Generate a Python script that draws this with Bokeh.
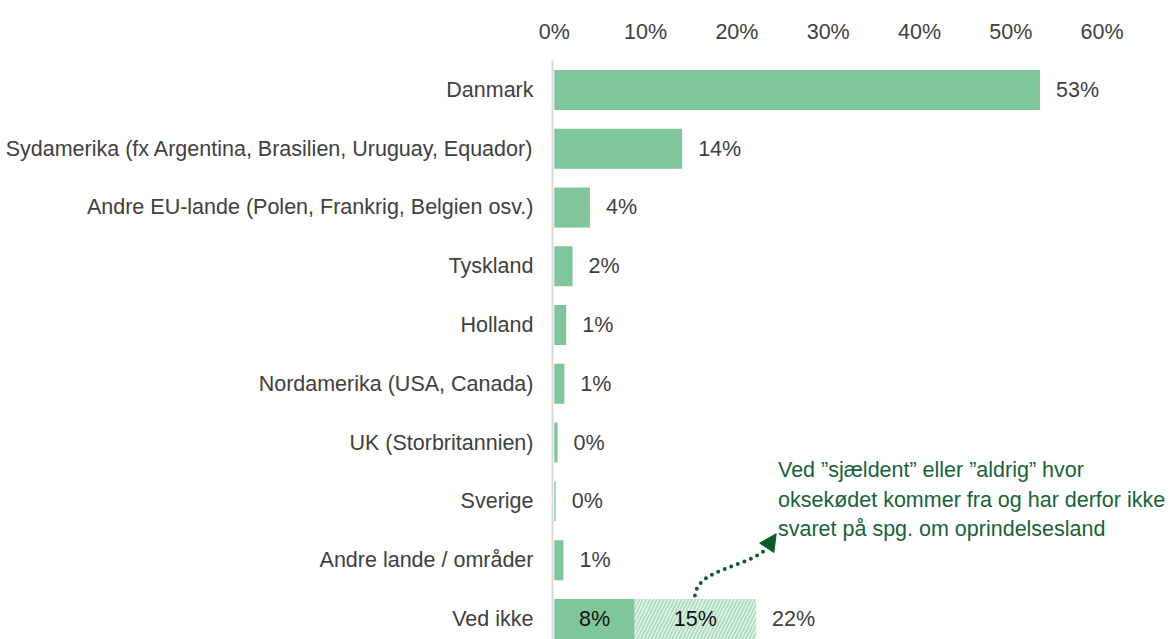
from bokeh.plotting import figure
from bokeh.models import Range1d, FixedTicker, Arrow, NormalHead, ColumnDataSource
from bokeh.core.properties import value
from bokeh.embed import file_html
from bokeh.resources import INLINE

# ---- data ----
categories = [
    "Danmark",
    "Sydamerika (fx Argentina, Brasilien, Uruguay, Equador)",
    "Andre EU-lande (Polen, Frankrig, Belgien osv.)",
    "Tyskland",
    "Holland",
    "Nordamerika (USA, Canada)",
    "UK (Storbritannien)",
    "Sverige",
    "Andre lande / områder",
    "Ved ikke",
]
values = [53.2, 14.0, 3.9, 2.0, 1.3, 1.1, 0.35, 0.15, 1.0, 8.8]
value_labels = ["53%", "14%", "4%", "2%", "1%", "1%", "0%", "0%", "1%", "8%"]
ved_ikke_extra = 13.3          # hatched part of "Ved ikke"
ved_ikke_extra_label = "15%"
ved_ikke_total_label = "22%"
tick_values = [0, 10, 20, 30, 40, 50, 60]
tick_labels = ["0%", "10%", "20%", "30%", "40%", "50%", "60%"]
note_lines = [
    "Ved \u201dsjældent\u201d eller \u201daldrig\u201d hvor",
    "oksekødet kommer fra og har derfor ikke",
    "svaret på spg. om oprindelsesland",
]

FONT = "Liberation Sans"
FS = "21.5px"
GREEN = "#7fc69a"
TXT = "#404040"
NOTE = "#17633a"
ARROWC = "#0b5c2c"

n = len(categories)
ys = list(range(n))
last = n - 1

p = figure(width=1171, height=639,
           x_range=Range1d(-0.2, 67.6), y_range=Range1d(9.35, -0.5),
           x_axis_location="above",
           output_backend="svg", toolbar_location=None,
           min_border_left=552, min_border_top=60,
           min_border_right=0, min_border_bottom=0)
p.outline_line_color = None
p.xgrid.grid_line_color = None
p.ygrid.grid_line_color = None

# top axis
xa = p.xaxis[0]
xa.ticker = FixedTicker(ticks=tick_values)
xa.major_label_overrides = {v: l for v, l in zip(tick_values, tick_labels)}
xa.axis_line_color = None
xa.major_tick_line_color = None
xa.minor_tick_line_color = None
xa.major_label_text_font = FONT
xa.major_label_text_font_size = FS
xa.major_label_text_color = TXT
xa.major_label_standoff = 11

# left axis
ya = p.yaxis[0]
ya.ticker = FixedTicker(ticks=ys)
ya.major_label_overrides = {i: c for i, c in zip(ys, categories)}
ya.axis_line_color = "#d9d9d9"
ya.axis_line_width = 2
ya.major_tick_line_color = None
ya.minor_tick_line_color = None
ya.major_label_text_font = FONT
ya.major_label_text_font_size = FS
ya.major_label_text_color = TXT
ya.major_label_standoff = 13

# bars
p.hbar(y=ys, left=0, right=values, height=0.68, fill_color=GREEN, line_color=None)
p.hbar(y=[ys[last]], left=[values[last]], right=[values[last] + ved_ikke_extra],
       height=0.68, fill_color="#acdbbb", line_color=None,
       hatch_pattern="/", hatch_color="#e2f4e8", hatch_scale=7, hatch_weight=1.6)

# value labels (outside bars)
out_src = ColumnDataSource(dict(
    x=values[:last] + [values[last] + ved_ikke_extra],
    y=ys,
    t=value_labels[:last] + [ved_ikke_total_label]))
p.text(x="x", y="y", text="t", source=out_src, x_offset=16,
       text_align="left", text_baseline="middle",
       text_font=value(FONT), text_font_size=FS, text_color=TXT)

# labels inside Ved ikke bar
in_src = ColumnDataSource(dict(
    x=[values[last] / 2, values[last] + ved_ikke_extra / 2],
    y=[ys[last], ys[last]],
    t=[value_labels[last], ved_ikke_extra_label]))
p.text(x="x", y="y", text="t", source=in_src,
       text_align="center", text_baseline="middle",
       text_font=value(FONT), text_font_size=FS, text_color="#111111")

# note text
p.text(x=[24.5] * 3, y=[6.47] * 3, text=note_lines, y_offset=[0, 29.5, 59],
       text_align="left", text_baseline="middle",
       text_font=value(FONT), text_font_size=FS, text_color=NOTE)

# dotted curved arrow
p.bezier(x0=[15.4], y0=[8.6], x1=[23.3], y1=[7.8],
         cx0=[15.75], cy0=[8.14], cx1=[20.9], cy1=[8.14],
         line_color=ARROWC, line_width=4, line_dash="0 7", line_cap="round")
p.add_layout(Arrow(end=NormalHead(size=17, fill_color=ARROWC, line_color=ARROWC),
                   x_start=23.1, y_start=7.83, x_end=24.3, y_end=7.55,
                   line_color=None))

open("out.html", "w").write(file_html(p, INLINE))
